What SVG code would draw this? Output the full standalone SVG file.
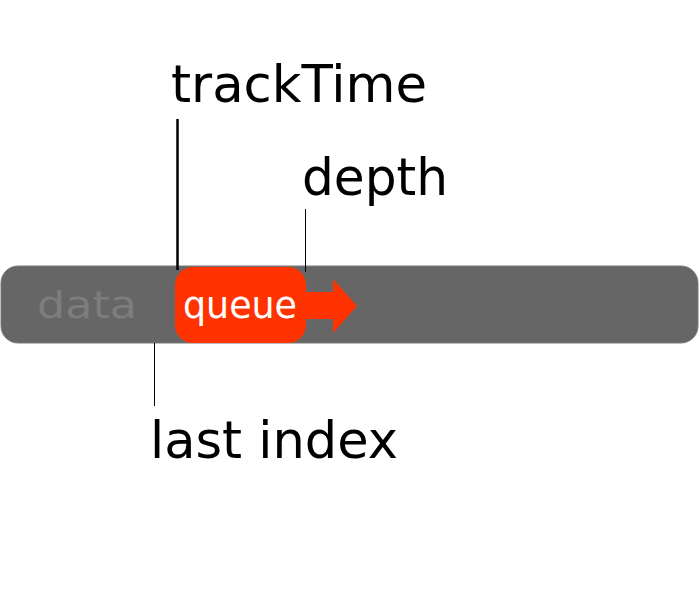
<svg xmlns="http://www.w3.org/2000/svg" width="700" height="600" viewBox="0 0 700 600">
<style>
.lbl{font-family:"DejaVu Sans",Verdana,sans-serif;font-size:52px;fill:#000}
.hand{font-family:"DejaVu Sans",sans-serif;font-size:38px}
</style>
<rect width="700" height="600" fill="#fff"/>
<g id="bar">
<rect x="1" y="266" width="697" height="77" rx="17" fill="#666666" stroke="#7a7a7a" stroke-width="1"/>
<text class="hand" x="37" y="318" fill="#7d7d7d" textLength="100" lengthAdjust="spacingAndGlyphs">data</text>
</g>
<g id="queue">
<path d="M306 292 H333 V279 L357 306 L333 333 V319 H306 Z" fill="#ff3300"/>
<rect x="175" y="267" width="131" height="76" rx="18" fill="#ff3300"/>
<text class="hand" x="183" y="318" fill="#fff" textLength="114" lengthAdjust="spacingAndGlyphs">queue</text>
</g>
<g id="connectors" stroke="#000">
<line x1="177.5" y1="119" x2="177.5" y2="270" stroke-width="2.5"/>
<line x1="305.5" y1="209" x2="305.5" y2="272" stroke-width="1"/>
<line x1="154.5" y1="343" x2="154.5" y2="406" stroke-width="1"/>
</g>
<g id="trackTime"><text class="lbl" x="171" y="102" textLength="256" lengthAdjust="spacingAndGlyphs">trackTime</text></g>
<g id="depth"><text class="lbl" x="302" y="195" textLength="146" lengthAdjust="spacingAndGlyphs">depth</text></g>
<g id="lastIndex"><text class="lbl" x="150" y="458" textLength="248" lengthAdjust="spacingAndGlyphs">last index</text></g>
</svg>
